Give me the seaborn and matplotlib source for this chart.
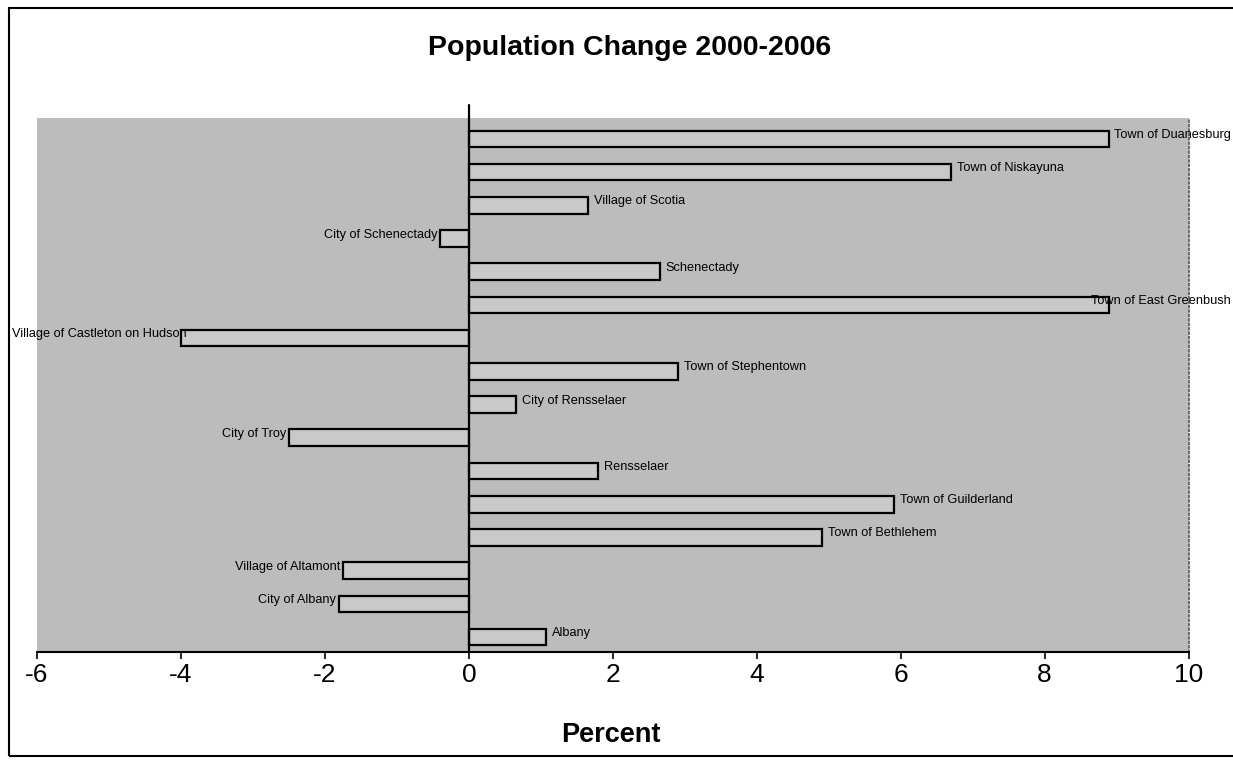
import numpy as np
import pandas as pd
import seaborn as sns
import matplotlib.pyplot as plt
from matplotlib.patches import Rectangle

# dados (variacao populacional 2000-2006, em %)
lugares = ["Town of Duanesburg", "Town of Niskayuna", "Village of Scotia",
           "City of Schenectady", "Schenectady", "Town of East Greenbush",
           "Village of Castleton on Hudson", "Town of Stephentown",
           "City of Rensselaer", "City of Troy", "Rensselaer",
           "Town of Guilderland", "Town of Bethlehem", "Village of Altamont",
           "City of Albany", "Albany"]
variacao = [8.9, 6.7, 1.65, -0.4, 2.65, 8.9, -4.0, 2.9,
            0.65, -2.5, 1.8, 5.9, 4.9, -1.75, -1.8, 1.07]
ticks_x = [-6, -4, -2, 0, 2, 4, 6, 8, 10]

df = pd.DataFrame({"lugar": lugares, "variacao": variacao})

sns.set_style("white")
plt.rcParams['font.family'] = ['Liberation Sans', 'DejaVu Sans']
plt.rcParams['text.color'] = 'black'
plt.rcParams['xtick.color'] = 'black'

fig = plt.figure(figsize=(12.33, 7.62), dpi=100)
ax = fig.add_axes([0.030, 0.1444, 0.934, 0.7007])
ax.set_facecolor("#bcbcbc")

sns.barplot(data=df, x="variacao", y="lugar", orient="h", color="#c9c9c9",
            edgecolor="black", linewidth=1.6, width=0.5, saturation=1, ax=ax)

ax.set_xlim(-6, 10)
ax.set_ylim(15.45, -0.63)
ax.set_xticks(ticks_x)
ax.set_xticklabels([str(t) for t in ticks_x], fontsize=19, color="black")
ax.set_yticks([])
ax.set_xlabel("")
ax.set_ylabel("")
ax.tick_params(axis="x", direction="out", length=5, width=1.2, pad=3,
               bottom=True, color="black")

for lado in ["top", "left"]:
    ax.spines[lado].set_visible(False)
ax.spines["bottom"].set_color("black")
ax.spines["bottom"].set_linewidth(1.5)
ax.spines["right"].set_color("#555555")
ax.spines["right"].set_linestyle(":")
ax.spines["right"].set_linewidth(1.2)

# eixo das categorias no zero
ax.axvline(0, ymin=0, ymax=1.025, color="black", lw=1.6, clip_on=False)

# rotulos das barras
textos = []
for i, (nome, v) in enumerate(zip(lugares, variacao)):
    if v >= 0:
        t = ax.annotate(nome, (v, i), xytext=(6, 4), textcoords="offset pixels",
                        ha="left", va="center", fontsize=9.2, color="black",
                        annotation_clip=False)
    else:
        t = ax.annotate(nome, (v, i), xytext=(-3, 4), textcoords="offset pixels",
                        ha="right", va="center", fontsize=9.2, color="black",
                        annotation_clip=False)
    textos.append(t)

# mantem os rotulos dentro da area do grafico (como o Excel faz)
fig.canvas.draw()
for t in textos:
    bb = t.get_window_extent()
    dx, dy = t.xyann
    if bb.x0 < 12:
        t.xyann = (dx + (12 - bb.x0), dy)
    elif bb.x1 > 1231:
        t.xyann = (dx - (bb.x1 - 1231), dy)

fig.text(630 / 1233, 1 - 48 / 762, "Population Change 2000-2006",
         ha="center", va="center", fontsize=20.5, fontweight="bold")
fig.text(611 / 1233, 1 - 735 / 762, "Percent",
         ha="center", va="center", fontsize=19.5, fontweight="bold")

# moldura externa do grafico
fig.patches.append(Rectangle((9 / 1233, 6 / 762), 1.2, 1 - 14 / 762,
                             transform=fig.transFigure, fill=False,
                             edgecolor="black", lw=1.5, clip_on=False))

fig.savefig("out.png", dpi=100)
